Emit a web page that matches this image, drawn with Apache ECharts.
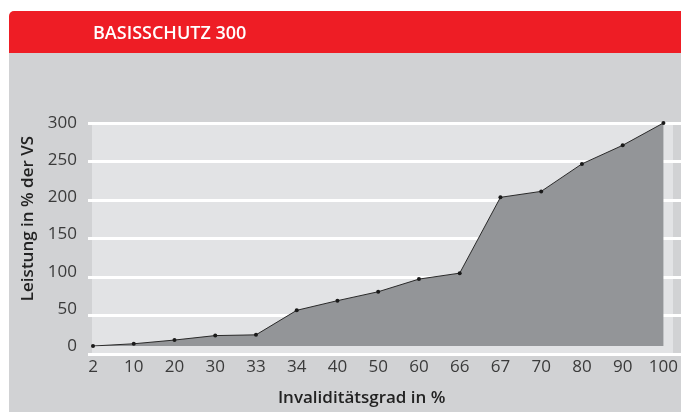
<!DOCTYPE html>
<html>
<head>
<meta charset="utf-8">
<script src="https://cdn.jsdelivr.net/npm/echarts@6/dist/echarts.min.js"></script>
<style>
html,body{margin:0;padding:0;background:#fff;overflow:hidden;width:100%;height:100%;}
#chart{width:681px;height:412px;}
</style>
</head>
<body>
<div id="chart"></div>
<script>
// Daten
var grade = ['2', '10', '20', '30', '33', '34', '40', '50', '60', '66', '67', '70', '80', '90', '100'];
var leistung = [0, 3, 8, 14, 15, 48, 61, 73, 90, 98, 200, 208, 245, 270, 300];
var yTicks = [0, 50, 100, 150, 200, 250, 300];

var titel = 'BASISSCHUTZ 300';
var yName = 'Leistung in % der VS';
var xName = 'Invaliditätsgrad in %';

var font = '"Open Sans", "Noto Sans", sans-serif';

var myChart = echarts.init(document.getElementById('chart'));
var option = {
    animation: false,
    backgroundColor: '#ffffff',
    title: {
        text: titel,
        left: 88,
        top: 20,
        textStyle: {
            color: '#ffffff',
            fontFamily: font,
            fontWeight: 600,
            fontSize: 18
        }
    },
    graphic: [
        {   // grauer Hintergrund
            type: 'rect', z: -10,
            shape: {x: 9, y: 53, width: 672, height: 359},
            style: {fill: '#d1d2d4'}
        },
        {   // roter Kopf
            type: 'rect', z: -10,
            shape: {x: 9, y: 11, width: 672, height: 42, r: [5, 0, 0, 0]},
            style: {fill: '#ee1d25'}
        },
        {   // Diagrammfläche
            type: 'rect', z: -9,
            shape: {x: 92, y: 122, width: 581, height: 232},
            style: {fill: '#e2e3e5'}
        }
    ],
    grid: [
        {left: 93, right: 9, top: 123, bottom: 58},
        {left: 88, right: 0, top: 123, bottom: 58}  // nur fuer die Gitterlinien
    ],
    xAxis: [{
        gridIndex: 0,
        type: 'category',
        boundaryGap: false,
        data: grade,
        axisLine: {show: false},
        axisTick: {show: false},
        axisLabel: {
            color: '#3a3a3a',
            fontFamily: font,
            fontSize: 17,
            margin: 13
        },
        name: xName,
        nameLocation: 'middle',
        nameGap: 44,
        nameTextStyle: {
            color: '#222',
            fontFamily: font,
            fontWeight: 600,
            fontSize: 17,
            padding: [0, 33, 0, 0]
        }
    }, {
        gridIndex: 1,
        type: 'value',
        min: 0,
        max: 1,
        show: false
    }],
    yAxis: [{
        gridIndex: 0,
        type: 'value',
        min: yTicks[0],
        max: yTicks[yTicks.length - 1],
        interval: yTicks[1] - yTicks[0],
        splitLine: {show: false},
        axisLine: {show: false},
        axisTick: {show: false},
        axisLabel: {
            color: '#3a3a3a',
            fontFamily: font,
            fontSize: 17,
            margin: 16
        },
        name: yName,
        nameLocation: 'middle',
        nameRotate: 90,
        nameGap: 56,
        nameTextStyle: {
            color: '#222',
            fontFamily: font,
            fontWeight: 600,
            fontSize: 17,
            padding: [0, 0, 0, 32]
        }
    }, {
        gridIndex: 1,
        type: 'value',
        min: yTicks[0],
        max: yTicks[yTicks.length - 1],
        interval: yTicks[1] - yTicks[0],
        axisLine: {show: false},
        axisTick: {show: false},
        axisLabel: {show: false},
        splitLine: {lineStyle: {color: '#ffffff', width: 3}}
    }],
    series: [{
        type: 'line',
        xAxisIndex: 0,
        yAxisIndex: 0,
        data: leistung,
        symbol: 'circle',
        symbolSize: 4,
        itemStyle: {color: '#1a1a1a'},
        lineStyle: {color: '#2a2a2a', width: 1},
        areaStyle: {color: '#939598', opacity: 1},
        z: 5
    }]
};
myChart.setOption(option);
</script>
</body>
</html>
